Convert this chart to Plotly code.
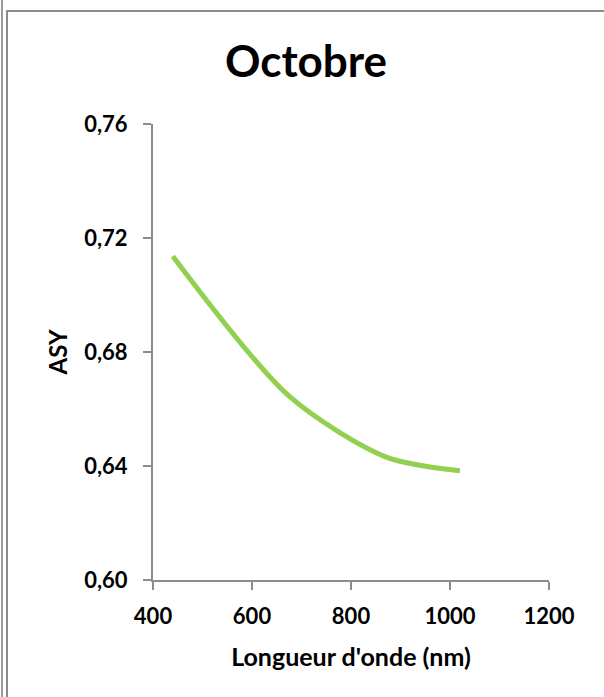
import plotly.graph_objects as go

wavelength = [440, 675, 870, 1020]
asy = [0.7136, 0.6645, 0.6432, 0.6383]

title_text = "Octobre"
x_title = "Longueur d'onde (nm)"
y_title = "ASY"
x_ticks = [400, 600, 800, 1000, 1200]
y_ticks = [0.60, 0.64, 0.68, 0.72, 0.76]
y_ticklabels = ["0,60", "0,64", "0,68", "0,72", "0,76"]

W, H = 604, 697
L, R, T, B = 153, 55, 124, 117
pw, ph = W - L - R, H - T - B

def px(x):
    return (x - L) / pw

def py(y):
    return (H - B - y) / ph

font = "Lato"
fig = go.Figure()
fig.add_trace(go.Scatter(
    x=wavelength, y=asy, mode="lines",
    line=dict(color="#92D050", width=5, shape="spline", smoothing=0.8),
    showlegend=False, hoverinfo="skip",
))

axis_common = dict(
    showgrid=False, zeroline=False, showline=True, linecolor="#8c8c8c", linewidth=2,
    ticks="outside", ticklen=8, tickwidth=2, tickcolor="#8c8c8c",
    tickfont=dict(family=font, size=22, color="black", weight="bold"),
)

fig.update_layout(
    width=W, height=H,
    margin=dict(l=L, r=R, t=T, b=B, pad=0),
    paper_bgcolor="white", plot_bgcolor="white",
    title=dict(text=title_text, x=306 / W, xref="container", xanchor="center",
               y=(H - 62) / H, yanchor="middle",
               font=dict(family=font, size=44, color="black", weight="bold")),
    xaxis=dict(range=[400, 1200], tickvals=x_ticks, ticktext=[str(v) for v in x_ticks],
               title=dict(text=x_title, standoff=20,
                          font=dict(family=font, size=25, color="black", weight="bold")),
               ticklabelstandoff=8, **axis_common),
    yaxis=dict(range=[0.60, 0.76], tickvals=y_ticks, ticktext=y_ticklabels,
               title=dict(text=y_title, standoff=10,
                          font=dict(family=font, size=24, color="black", weight="bold")),
               ticklabelstandoff=11, **axis_common),
    shapes=[
        dict(type="line", xref="paper", yref="paper", x0=px(2), x1=px(2), y0=py(-5), y1=py(H + 5),
             line=dict(color="#9a9a9a", width=2)),
        dict(type="rect", xref="paper", yref="paper", x0=px(7), x1=px(W + 10), y0=py(11), y1=py(H + 10),
             line=dict(color="#8c8c8c", width=2), layer="below"),
    ],
)

fig.write_html("out.html", config={"displayModeBar": False},
               post_script="document.body.style.margin='0';document.body.style.overflow='hidden';")
